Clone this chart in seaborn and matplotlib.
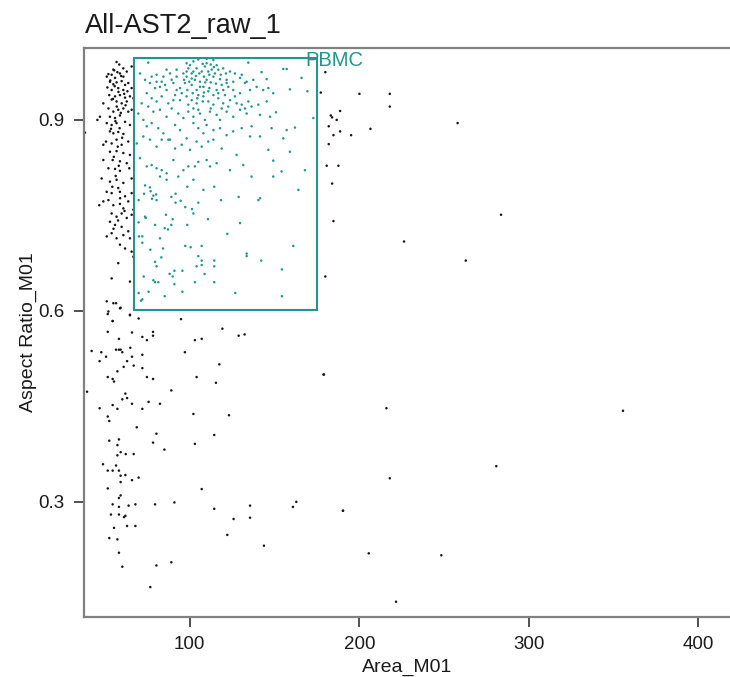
import matplotlib
matplotlib.use("Agg")
import matplotlib.pyplot as plt
from matplotlib.patches import Rectangle
import numpy as np
import pandas as pd
import seaborn as sns

# Events inside the PBMC gate (Area_M01, Aspect Ratio_M01)
pbmc_area = [
    75.6, 98.2, 100.2, 102.2, 105.1, 110.0, 114.0, 115.9, 104.1, 109.0, 107.1, 111.0, 113.0, 116.9, 119.8,
    123.8, 126.7, 130.7, 134.6, 142.4, 155.2, 157.2, 86.4, 88.4, 92.3, 96.3, 98.2, 101.2, 103.1, 106.1,
    110.0, 114.0, 117.9, 121.8, 125.7, 129.7, 133.6, 137.5, 145.4, 159.1, 169.4, 166.0, 70.7, 73.7, 76.6,
    80.5, 82.5, 86.4, 90.4, 94.3, 97.2, 101.2, 104.1, 108.1, 111.0, 114.0, 115.9, 119.8, 122.8, 125.7,
    129.7, 132.6, 135.6, 139.5, 143.4, 146.4, 149.3, 74.7, 77.6, 80.5, 83.5, 87.4, 91.4, 94.3, 98.2,
    101.2, 104.1, 108.1, 111.0, 114.0, 116.9, 119.8, 123.8, 126.7, 130.7, 134.6, 140.5, 145.4, 71.7, 75.6,
    78.6, 82.5, 86.4, 89.4, 93.3, 96.3, 99.2, 102.2, 106.1, 109.0, 112.0, 115.9, 117.9, 121.8, 125.7,
    129.7, 133.6, 141.5, 147.4, 150.9, 172.9, 69.7, 72.7, 74.7, 77.6, 81.5, 84.5, 87.4, 91.4, 94.3,
    98.2, 102.2, 105.1, 108.1, 110.0, 114.0, 117.9, 121.8, 125.7, 130.7, 135.6, 136.5, 141.5, 148.3, 155.2,
    157.2, 162.1, 68.8, 72.7, 76.6, 80.5, 83.5, 88.4, 91.4, 95.3, 100.2, 104.1, 107.1, 111.0, 114.0,
    118.9, 146.4, 149.3, 159.1, 168.0, 70.7, 74.7, 77.6, 80.5, 83.5, 86.4, 90.4, 93.3, 96.3, 99.2,
    103.1, 105.1, 110.0, 112.0, 115.9, 123.8, 127.7, 131.6, 136.5, 149.3, 154.2, 82.5, 86.4, 102.2,
    99.2, 102.2, 105.7, 108.4, 111.6, 114.9, 118.3, 121.4, 101.2, 103.7, 98.2, 96.7, 99.8, 112.4, 115.5,
    118.9, 121.8, 106.1, 109.2, 98.6, 101.8, 105.1, 108.4, 111.6, 116.9, 120.8, 104.5, 107.7, 92.3, 89.4,
    84.5, 80.5, 77.6, 83.5, 85.5, 79.6, 92.3, 95.3, 90.4, 99.2, 102.2, 105.1, 112.4, 118.9, 122.8,
    127.7, 132.6, 136.5, 110.0, 107.7, 112.4, 114.3,
    73.7, 76.6, 77.0, 98.6, 108.1, 114.5, 164.1, 73.1, 78.6, 80.2, 77.8, 80.5, 69.9, 91.7, 89.2,
    94.7, 91.7, 105.1, 118.5, 128.9, 140.5, 141.5, 97.4, 101.4, 102.2, 86.0, 73.7, 74.1, 90.0, 110.8,
    69.9, 79.6, 89.2, 85.3, 87.2, 98.6, 129.7, 122.2, 82.5, 72.1, 70.1, 72.1, 97.4, 100.6, 107.1,
    161.1, 76.8, 84.3, 133.6, 133.6, 105.1, 83.3, 107.1, 114.5, 142.2, 79.6, 80.5, 104.1, 107.1, 114.5,
    154.4, 95.7, 91.0, 88.2, 90.0, 108.8, 72.9, 78.6, 79.6, 81.5, 91.0, 103.1, 114.5, 69.9, 75.8,
    95.7, 85.3, 126.9, 154.4, 72.1, 71.3,
]
pbmc_ratio = [
    0.990, 0.989, 0.986, 0.992, 0.995, 0.996, 0.994, 0.986, 0.981, 0.984, 0.976, 0.976, 0.979, 0.979, 0.981,
    0.976, 0.973, 0.971, 0.990, 0.975, 0.980, 0.980, 0.979, 0.973, 0.979, 0.973, 0.968, 0.965, 0.963, 0.960,
    0.963, 0.968, 0.964, 0.963, 0.960, 0.966, 0.960, 0.963, 0.964, 0.948, 0.945, 0.966, 0.973, 0.963, 0.958,
    0.960, 0.952, 0.947, 0.958, 0.950, 0.958, 0.955, 0.947, 0.952, 0.945, 0.939, 0.947, 0.947, 0.952, 0.947,
    0.942, 0.958, 0.947, 0.952, 0.947, 0.950, 0.942, 0.942, 0.934, 0.929, 0.937, 0.926, 0.939, 0.931, 0.937,
    0.931, 0.926, 0.937, 0.929, 0.924, 0.934, 0.926, 0.931, 0.937, 0.924, 0.929, 0.924, 0.929, 0.926, 0.921,
    0.913, 0.916, 0.905, 0.918, 0.910, 0.903, 0.913, 0.905, 0.910, 0.900, 0.913, 0.908, 0.900, 0.913, 0.905,
    0.916, 0.910, 0.908, 0.905, 0.912, 0.903, 0.910, 0.900, 0.890, 0.895, 0.887, 0.879, 0.869, 0.892, 0.884,
    0.871, 0.895, 0.887, 0.879, 0.892, 0.884, 0.887, 0.876, 0.882, 0.887, 0.874, 0.890, 0.874, 0.887, 0.871,
    0.884, 0.888, 0.863, 0.874, 0.869, 0.858, 0.869, 0.869, 0.855, 0.861, 0.853, 0.866, 0.858, 0.866, 0.869,
    0.855, 0.853, 0.836, 0.850, 0.821, 0.840, 0.827, 0.829, 0.824, 0.821, 0.816, 0.837, 0.811, 0.821, 0.827,
    0.827, 0.834, 0.837, 0.827, 0.832, 0.821, 0.845, 0.829, 0.811, 0.811, 0.819, 0.811, 0.806, 0.806,
    0.981, 0.976, 0.973, 0.968, 0.971, 0.973, 0.971, 0.973, 0.973, 0.969, 0.976, 0.963, 0.960, 0.959, 0.957,
    0.955, 0.958, 0.952, 0.959, 0.947, 0.942, 0.939, 0.943, 0.950, 0.942, 0.939, 0.934, 0.929, 0.968, 0.963,
    0.968, 0.971, 0.968, 0.960, 0.955, 0.950, 0.947, 0.942, 0.931, 0.924, 0.918, 0.916, 0.918, 0.918, 0.921,
    0.926, 0.918, 0.921, 0.989, 0.988, 0.987, 0.983,
    0.797, 0.794, 0.788, 0.795, 0.790, 0.795, 0.790, 0.784, 0.781, 0.783, 0.776, 0.774, 0.774, 0.784, 0.779,
    0.773, 0.770, 0.770, 0.774, 0.779, 0.774, 0.777, 0.763, 0.760, 0.753, 0.751, 0.748, 0.746, 0.744, 0.744,
    0.739, 0.735, 0.735, 0.730, 0.728, 0.735, 0.738, 0.721, 0.714, 0.717, 0.717, 0.707, 0.702, 0.700, 0.702,
    0.702, 0.696, 0.698, 0.690, 0.686, 0.686, 0.684, 0.679, 0.679, 0.679, 0.677, 0.670, 0.670, 0.672, 0.670,
    0.665, 0.663, 0.663, 0.658, 0.654, 0.658, 0.654, 0.648, 0.645, 0.645, 0.642, 0.645, 0.645, 0.628, 0.630,
    0.630, 0.623, 0.628, 0.623, 0.618, 0.616,
]

# Events outside the gate
other_area = [
    56.9, 58.5, 60.9, 55.0, 52.1, 51.1, 54.0, 56.0, 58.9, 60.9, 62.9, 65.8, 53.0, 55.0, 56.9, 59.9, 61.9,
    63.8, 51.5, 54.0, 57.9, 60.9, 63.3, 65.8, 52.6, 56.0, 58.9, 61.9, 64.8, 54.0, 56.9, 59.9, 62.9, 66.8,
    49.1, 52.1, 55.0, 57.9, 60.9, 63.8, 65.8, 53.0, 56.0, 58.9, 47.1, 45.6, 51.1, 54.0, 56.9, 61.9, 64.8,
    53.0, 55.0, 57.9, 60.9, 50.7, 54.0, 56.9, 59.9, 63.8, 49.1, 53.0, 56.9, 60.9, 64.8, 54.6, 58.9, 62.9,
    49.1, 52.1, 56.0, 58.9, 64.4, 48.1, 53.0, 56.9, 60.9, 65.8, 51.1, 54.0, 57.9, 58.9, 61.9, 65.8, 46.7,
    49.1, 52.1, 55.0, 58.9, 60.9, 63.8, 66.8, 54.0, 56.9, 59.9, 62.9, 65.8, 53.0, 56.0, 59.9, 63.8, 51.1,
    54.0, 56.9, 60.9, 64.8, 58.9, 61.9, 65.8, 66.8, 57.9, 54.0, 64.8, 51.1, 55.0, 58.9, 52.1, 54.6, 64.8,
    38.3,
    55.5, 57.4, 59.6, 53.2, 55.8, 58.0, 61.4, 54.8, 57.0, 59.4, 62.2, 56.2, 58.7, 53.6, 60.2, 57.6,
    55.3, 58.2, 56.4, 54.4, 59.0, 61.6, 57.8, 55.1,
    56.6, 59.3, 51.7, 64.8, 69.9, 54.6, 94.9, 51.7, 66.0, 78.4, 78.4, 72.1, 74.8, 58.3, 119.3, 103.1,
    107.1, 128.9, 132.4, 42.2, 47.9, 46.9, 50.7, 56.6, 58.3, 59.3, 60.3, 65.0, 66.0, 63.1, 61.1, 67.0,
    72.1, 72.1, 57.4, 51.7, 54.6, 55.4, 74.8, 78.4, 97.2, 117.5, 104.1, 115.5, 89.2, 39.5, 62.1, 63.1,
    60.3, 54.6, 57.4, 46.9, 66.0, 72.1, 75.8, 82.5, 51.7, 52.6, 68.8, 102.2, 123.2, 52.6, 58.3, 57.4,
    80.4, 78.4, 85.1, 103.1, 114.5, 179.2, 59.3, 62.3, 67.0, 57.4, 48.9, 51.7, 54.6, 56.6, 58.3, 59.3,
    59.3, 62.1, 66.0, 69.9, 51.7, 107.1, 58.3, 59.3, 54.6, 58.3, 64.0, 68.0, 79.6, 91.0, 114.5, 135.6,
    162.9, 160.9, 190.4, 53.6, 58.3, 61.3, 62.1, 125.9, 135.6, 55.4, 63.1, 68.0, 52.6, 57.4, 122.2,
    143.8, 58.3, 60.3, 80.4, 89.2, 76.8,
    180.0, 177.3, 200.1, 218.0, 218.0, 188.7, 183.2, 184.0, 186.7, 182.0, 206.6, 184.8, 188.7, 195.2,
    258.0, 182.0, 180.8, 187.7, 184.0, 184.8, 283.6, 226.4, 262.8, 180.0, 178.9, 216.0, 355.5, 280.8,
    218.0, 190.4, 205.6, 248.4, 221.7,
]
other_ratio = [
    0.991, 0.987, 0.981, 0.979, 0.972, 0.968, 0.971, 0.966, 0.973, 0.968, 0.976, 0.984, 0.960, 0.956, 0.959,
    0.961, 0.955, 0.958, 0.951, 0.947, 0.950, 0.947, 0.945, 0.950, 0.939, 0.937, 0.939, 0.935, 0.937, 0.932,
    0.929, 0.926, 0.929, 0.934, 0.926, 0.918, 0.913, 0.916, 0.918, 0.913, 0.916, 0.905, 0.903, 0.907, 0.905,
    0.900, 0.895, 0.892, 0.895, 0.897, 0.892, 0.882, 0.879, 0.881, 0.878, 0.866, 0.863, 0.869, 0.861, 0.866,
    0.861, 0.850, 0.851, 0.848, 0.845, 0.837, 0.835, 0.832, 0.837, 0.824, 0.823, 0.820, 0.824, 0.808, 0.803,
    0.806, 0.801, 0.808, 0.787, 0.785, 0.793, 0.787, 0.780, 0.785, 0.766, 0.772, 0.774, 0.766, 0.768, 0.761,
    0.772, 0.759, 0.753, 0.748, 0.753, 0.746, 0.751, 0.740, 0.735, 0.732, 0.725, 0.717, 0.722, 0.714, 0.719,
    0.714, 0.704, 0.698, 0.693, 0.685, 0.675, 0.651, 0.646, 0.615, 0.612, 0.604, 0.599, 0.584, 0.594,
    0.880,
    0.978, 0.975, 0.969, 0.962, 0.953, 0.944, 0.941, 0.933, 0.921, 0.911, 0.923, 0.898, 0.887, 0.886, 0.872,
    0.858, 0.842, 0.828, 0.812, 0.795, 0.777, 0.757, 0.742, 0.729,
    0.612, 0.605, 0.595, 0.593, 0.588, 0.584, 0.587, 0.567, 0.566, 0.567, 0.561, 0.559, 0.554, 0.556, 0.572,
    0.554, 0.556, 0.561, 0.563, 0.537, 0.535, 0.521, 0.528, 0.539, 0.539, 0.539, 0.535, 0.542, 0.528, 0.521,
    0.512, 0.514, 0.531, 0.510, 0.505, 0.496, 0.493, 0.489, 0.496, 0.493, 0.535, 0.516, 0.496, 0.487, 0.475,
    0.473, 0.470, 0.463, 0.461, 0.452, 0.446, 0.447, 0.454, 0.446, 0.457, 0.454, 0.434, 0.427, 0.417, 0.438,
    0.436, 0.396, 0.398, 0.389, 0.407, 0.393, 0.382, 0.391, 0.405, 0.500, 0.378, 0.375, 0.375, 0.373, 0.359,
    0.349, 0.349, 0.357, 0.349, 0.341, 0.331, 0.342, 0.334, 0.338, 0.321, 0.320, 0.306, 0.310, 0.296, 0.292,
    0.294, 0.296, 0.296, 0.299, 0.289, 0.294, 0.300, 0.292, 0.286, 0.280, 0.280, 0.276, 0.278, 0.273, 0.275,
    0.259, 0.262, 0.262, 0.243, 0.241, 0.248, 0.231, 0.220, 0.198, 0.200, 0.205, 0.166,
    0.975, 0.943, 0.941, 0.941, 0.921, 0.914, 0.907, 0.904, 0.900, 0.890, 0.886, 0.876, 0.882, 0.876,
    0.895, 0.862, 0.828, 0.828, 0.800, 0.741, 0.751, 0.709, 0.679, 0.654, 0.500, 0.447, 0.443, 0.356,
    0.337, 0.286, 0.219, 0.216, 0.143,
]

# PBMC gate bounds
gate_area = (67.2, 174.9)
gate_ratio = (0.601, 0.998)

x_ticks = [100, 200, 300, 400]
y_ticks = [0.3, 0.6, 0.9]

teal = "#22958f"

df = pd.concat([
    pd.DataFrame({"Area_M01": other_area, "Aspect Ratio_M01": other_ratio, "population": "other"}),
    pd.DataFrame({"Area_M01": pbmc_area, "Aspect Ratio_M01": pbmc_ratio, "population": "PBMC"}),
], ignore_index=True)

sns.set_theme(style="white")
plt.rcParams["font.family"] = ["Liberation Sans", "DejaVu Sans"]

fig = plt.figure(figsize=(7.3, 6.77), dpi=100)
ax = fig.add_axes([84 / 730, 60 / 677, 646 / 730, 569 / 677])

sns.scatterplot(
    data=df, x="Area_M01", y="Aspect Ratio_M01", hue="population",
    palette={"other": "#151515", "PBMC": teal},
    s=3.2, linewidth=0, legend=False, ax=ax,
)

ax.add_patch(Rectangle(
    (gate_area[0], gate_ratio[0]), gate_area[1] - gate_area[0], gate_ratio[1] - gate_ratio[0],
    fill=False, edgecolor=teal, linewidth=1.5, zorder=3,
))
ax.text(168.0, 0.993, "PBMC", color=teal, fontsize=14.5, va="center", ha="left")

ax.set_xlim(37.7, 418.6)
ax.set_ylim(0.119, 1.013)
ax.set_xticks(x_ticks)
ax.set_yticks(y_ticks)
ax.set_xticklabels([str(v) for v in x_ticks])
ax.set_yticklabels([f"{v:.1f}" for v in y_ticks])

for side in ("left", "bottom", "top"):
    ax.spines[side].set_color("#808080")
    ax.spines[side].set_linewidth(1.6)
ax.spines["right"].set_visible(False)

ax.tick_params(axis="both", which="major", direction="out", length=7.5, width=1.2,
               color="#333333", labelsize=13.5, labelcolor="#1a1a1a", pad=6.5)
ax.tick_params(left=True, bottom=True)

ax.set_xlabel("Area_M01", fontsize=14, color="#1a1a1a", labelpad=4)
ax.set_ylabel("Aspect Ratio_M01", fontsize=14, color="#1a1a1a", labelpad=1)

fig.text(85 / 730, 1 - 33 / 677, "All-AST2_raw_1", fontsize=19.5, color="#1a1a1a",
         ha="left", va="baseline")

fig.savefig("out.png", dpi=100, facecolor="white")
